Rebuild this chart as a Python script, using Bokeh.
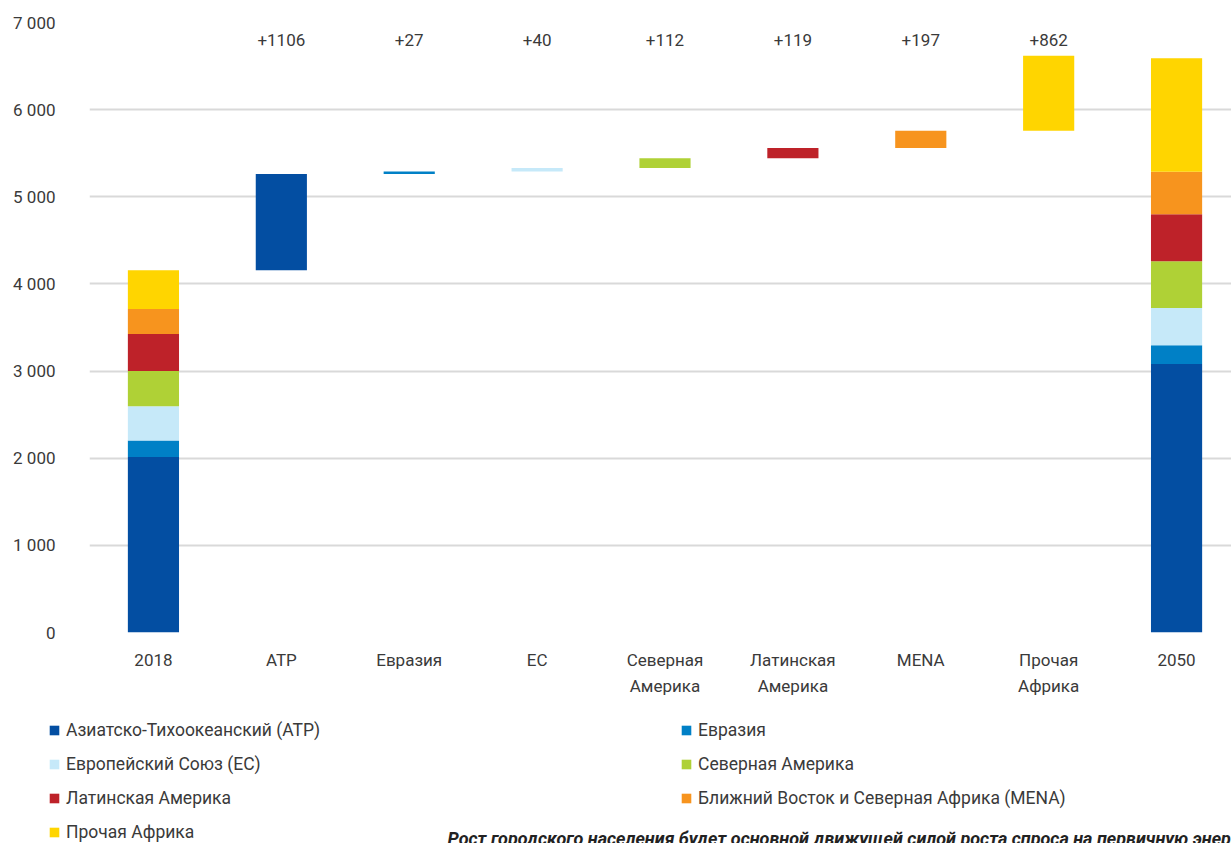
from bokeh.plotting import figure
from bokeh.models import Range1d, FactorRange, FixedTicker, Legend, LegendItem, Label, ColumnDataSource
from bokeh.layouts import column, row
from bokeh.core.properties import value
from bokeh.embed import file_html
from bokeh.resources import INLINE

categories = ["2018", "АТР", "Евразия", "ЕС", "Северная\nАмерика", "Латинская\nАмерика",
              "MENA", "Прочая\nАфрика", "2050"]
regions = ["Азиатско-Тихоокеанский (АТР)", "Евразия", "Европейский Союз (ЕС)",
           "Северная Америка", "Латинская Америка",
           "Ближний Восток и Северная Африка (MENA)", "Прочая Африка"]
values_2018 = [2013, 191, 391, 405, 425, 287, 444]
increments = [1106, 27, 40, 112, 119, 197, 862]
values_2050 = [3080, 217, 427, 535, 541, 487, 1303]
increment_labels = ["+1106", "+27", "+40", "+112", "+119", "+197", "+862"]
y_ticks = [0, 1000, 2000, 3000, 4000, 5000, 6000, 7000]
colors = ["#034EA2", "#0080C6", "#C6E9F9", "#AFD136", "#BE2229", "#F7941E", "#FFD500"]
legend_order = [0, 2, 4, 6, 1, 3, 5]
note_text = "Рост городского населения будет основной движущей силой роста спроса на первичную энергию"
FONT = "Roboto"
TXT = "#3a3a3a"
W = 1240

p = figure(x_range=FactorRange(*categories, range_padding=0), y_range=Range1d(0, 7000),
           width=W, height=710, output_backend="svg", toolbar_location=None,
           min_border_left=89, min_border_right=0, min_border_top=22, min_border_bottom=78)
p.outline_line_color = None
p.background_fill_color = None
p.border_fill_color = None

total_2018 = sum(values_2018)
cum18 = 0
cum50 = 0
run = total_2018
for i, reg in enumerate(regions):
    b18, t18 = cum18, cum18 + values_2018[i]
    b50, t50 = cum50, cum50 + values_2050[i]
    bw, tw = run, run + increments[i]
    cum18, cum50, run = t18, t50, tw
    src = ColumnDataSource(dict(x=["2018", categories[i + 1], "2050"],
                                bottom=[b18, bw, b50], top=[t18, tw, t50]))
    p.vbar(x="x", bottom="bottom", top="top", width=0.4, source=src,
           fill_color=colors[i], line_color=None)

p.text(x=categories[1:8], y=[6800] * 7, text=increment_labels,
       text_font=value(FONT), text_font_size="17px", text_color=TXT,
       text_align="center", text_baseline="middle")

p.yaxis.ticker = FixedTicker(ticks=y_ticks)
p.yaxis.major_label_overrides = {t: (f"{t:,}".replace(",", " ")) for t in y_ticks}
for ax in (p.xaxis[0], p.yaxis[0]):
    ax.axis_line_color = None
    ax.major_tick_line_color = None
    ax.minor_tick_line_color = None
    ax.major_tick_out = 0
    ax.major_tick_in = 0
    ax.minor_tick_out = 0
    ax.major_label_text_font = FONT
    ax.major_label_text_font_size = "17px"
    ax.major_label_text_color = TXT
p.yaxis.major_label_standoff = 34
p.xaxis.major_label_standoff = 17
p.xaxis.major_label_text_line_height = 1.3
p.xgrid.grid_line_color = None
p.ygrid.ticker = FixedTicker(ticks=y_ticks)
p.ygrid.grid_line_color = "#d9d9d9"
p.ygrid.grid_line_width = 2

# legend panel
LH = 150
q = figure(x_range=Range1d(0, W), y_range=Range1d(0, LH), width=W, height=LH,
           output_backend="svg", toolbar_location=None,
           min_border_left=0, min_border_right=0, min_border_top=0, min_border_bottom=0)
q.axis.visible = False
q.grid.grid_line_color = None
q.outline_line_color = None
q.background_fill_color = None
q.border_fill_color = None
items = []
for i in legend_order:
    r = q.vbar(x=[0], top=[0], bottom=[0], width=1, fill_color=colors[i], line_color=None)
    items.append(LegendItem(label=regions[i], renderers=[r]))
legend = Legend(items=items, location=(48, 18), ncols=2,
                glyph_width=12, glyph_height=12, label_standoff=6, label_width=600,
                spacing=14, padding=0, margin=0, border_line_color=None,
                background_fill_alpha=0, label_text_font=FONT,
                label_text_font_size="17.5px", label_text_color=TXT, label_height=20)
q.add_layout(legend)
note = Label(x=447, y=33, x_units="screen", y_units="screen", text=note_text,
             text_font=FONT, text_font_size="18px", text_font_style="bold italic",
             text_color="#222222", text_baseline="top")
q.add_layout(note)

open("out.html", "w").write(file_html(column(p, row(q), spacing=0), INLINE))
